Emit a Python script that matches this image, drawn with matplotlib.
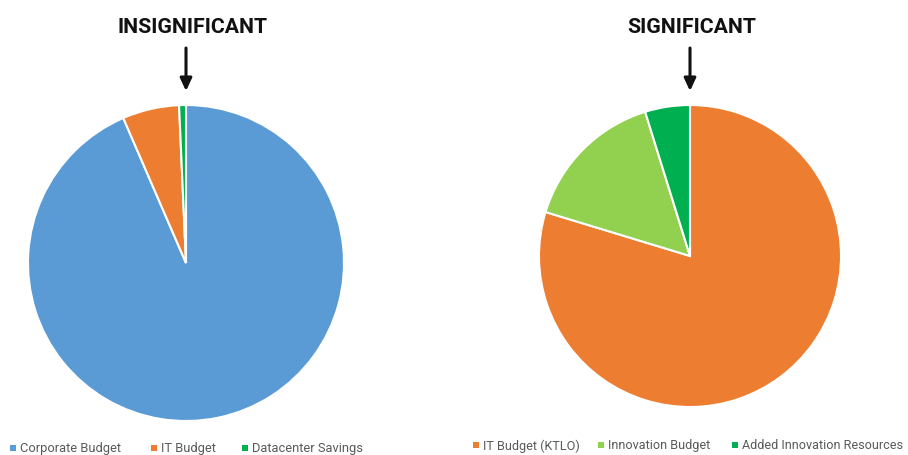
import matplotlib
matplotlib.use("Agg")
import matplotlib.pyplot as plt

# Data
left_title = "INSIGNIFICANT"
left_labels = ["Corporate Budget", "IT Budget", "Datacenter Savings"]
left_values = [93.5, 5.8, 0.7]
left_colors = ["#5B9BD5", "#ED7D31", "#00B050"]

right_title = "SIGNIFICANT"
right_labels = ["IT Budget (KTLO)", "Innovation Budget", "Added Innovation Resources"]
right_values = [79.7, 15.5, 4.8]
right_colors = ["#ED7D31", "#92D050", "#00B050"]

W, H = 908, 456
fig = plt.figure(figsize=(W / 100, H / 100), dpi=100)
ax = fig.add_axes([0, 0, 1, 1])
ax.set_xlim(0, W)
ax.set_ylim(0, H)
ax.set_aspect("equal")
ax.axis("off")

def Y(y):
    return H - y

wedge = dict(edgecolor="white", linewidth=1.5)
ax.pie(left_values, colors=left_colors, startangle=90, counterclock=False,
       center=(186, Y(264)), radius=158, wedgeprops=wedge, frame=True)
ax.pie(right_values, colors=right_colors, startangle=90, counterclock=False,
       center=(690, Y(257)), radius=151, wedgeprops=wedge, frame=True)
ax.set_xlim(0, W)
ax.set_ylim(0, H)
ax.axis("off")

title_font = dict(family="Roboto", weight="bold", fontsize=15.3, color="#111111",
                  ha="center", va="center")
ax.text(192, Y(27), left_title, **title_font)
ax.text(692, Y(27), right_title, **title_font)

for x in (186, 690):
    ax.annotate("", xy=(x, Y(92)), xytext=(x, Y(49)),
                arrowprops=dict(arrowstyle="-|>,head_length=0.75,head_width=0.35",
                                color="#111111", lw=2.2, shrinkA=0, shrinkB=0))

def legend(items, colors, xs, y, fs):
    for (mx, tx), lab, c in zip(xs, items, colors):
        ax.scatter([mx], [Y(y)], marker="s", s=22, color=c, linewidths=0)
        ax.text(tx, Y(y), lab, fontsize=fs, color="#595959", family="Roboto",
                ha="left", va="center")

legend(left_labels, left_colors, [(13, 20), (154, 161), (245, 252)], 449, 9.3)
legend(right_labels, right_colors, [(476, 483), (601, 608), (735, 742)], 446, 9.1)

fig.savefig("out.png", dpi=100, facecolor="white")
